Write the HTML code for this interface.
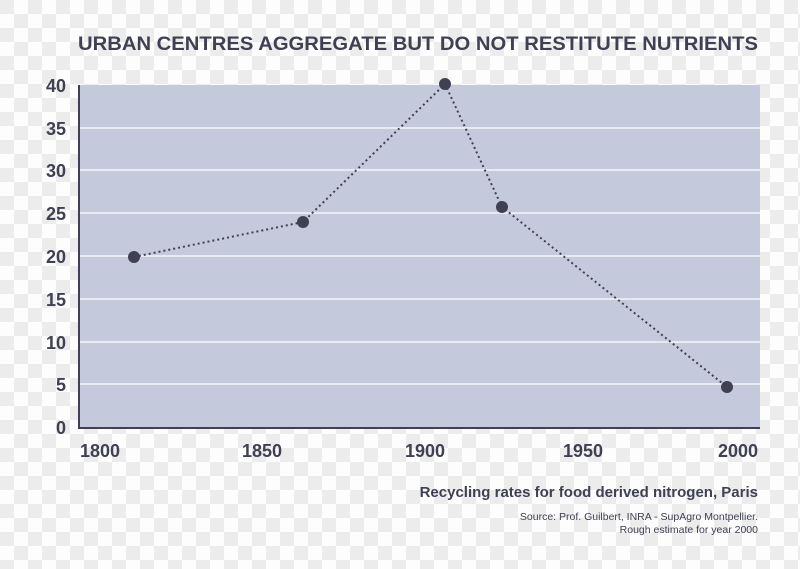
<!DOCTYPE html>
<html><head><style>
html,body{margin:0;padding:0;}
body{width:800px;height:564px;overflow:hidden;background-color:#f4f4f4;
background-image:conic-gradient(#fdfdfd 25%,#ececec 0 50%,#fdfdfd 0 75%,#ececec 0);background-size:28px 28px;}
text{font-family:"Liberation Sans",sans-serif;fill:#3f4152;}
</style></head><body>
<svg width="800" height="564" viewBox="0 0 800 564" xmlns="http://www.w3.org/2000/svg">
<text x="78" y="50" font-size="19" font-weight="bold" textLength="680" lengthAdjust="spacingAndGlyphs">URBAN CENTRES AGGREGATE BUT DO NOT RESTITUTE NUTRIENTS</text>
<rect x="79" y="85" width="681" height="342" fill="#c5c9dc"/>
<g stroke="#f4f5fa" stroke-width="1.5">
<line x1="79" x2="760" y1="128" y2="128"/><line x1="79" x2="760" y1="170" y2="170"/>
<line x1="79" x2="760" y1="213" y2="213"/><line x1="79" x2="760" y1="256" y2="256"/>
<line x1="79" x2="760" y1="299" y2="299"/><line x1="79" x2="760" y1="342" y2="342"/>
<line x1="79" x2="760" y1="384" y2="384"/>
</g>
<line x1="79" y1="85" x2="79" y2="428" stroke="#3f4152" stroke-width="2"/>
<line x1="78" y1="428" x2="760" y2="428" stroke="#3f4152" stroke-width="2"/>
<g font-size="18" font-weight="bold" text-anchor="end">
<text x="66" y="92">40</text><text x="66" y="135">35</text><text x="66" y="177">30</text>
<text x="66" y="220">25</text><text x="66" y="263">20</text><text x="66" y="306">15</text>
<text x="66" y="349">10</text><text x="66" y="391">5</text><text x="66" y="434">0</text>
</g>
<g font-size="18" font-weight="bold" text-anchor="middle">
<text x="100" y="457">1800</text><text x="262" y="457">1850</text><text x="425" y="457">1900</text>
<text x="583" y="457">1950</text><text x="738" y="457">2000</text>
</g>
<polyline points="134,257 303,222 445,84 502,207 727,387" fill="none" stroke="#3f4152" stroke-width="2" stroke-dasharray="2,3"/>
<g fill="#3f4152">
<circle cx="134" cy="257" r="6"/><circle cx="303" cy="222" r="6"/><circle cx="445" cy="84" r="6"/>
<circle cx="502" cy="207" r="6"/><circle cx="727" cy="387" r="6"/>
</g>
<text x="758" y="497" font-size="15" font-weight="bold" text-anchor="end">Recycling rates for food derived nitrogen, Paris</text>
<text x="758" y="520" font-size="10.5" text-anchor="end" fill="#55576a">Source: Prof. Guilbert, INRA - SupAgro Montpellier.</text>
<text x="758" y="533" font-size="10.5" text-anchor="end" fill="#55576a">Rough estimate for year 2000</text>
</svg>
</body></html>
